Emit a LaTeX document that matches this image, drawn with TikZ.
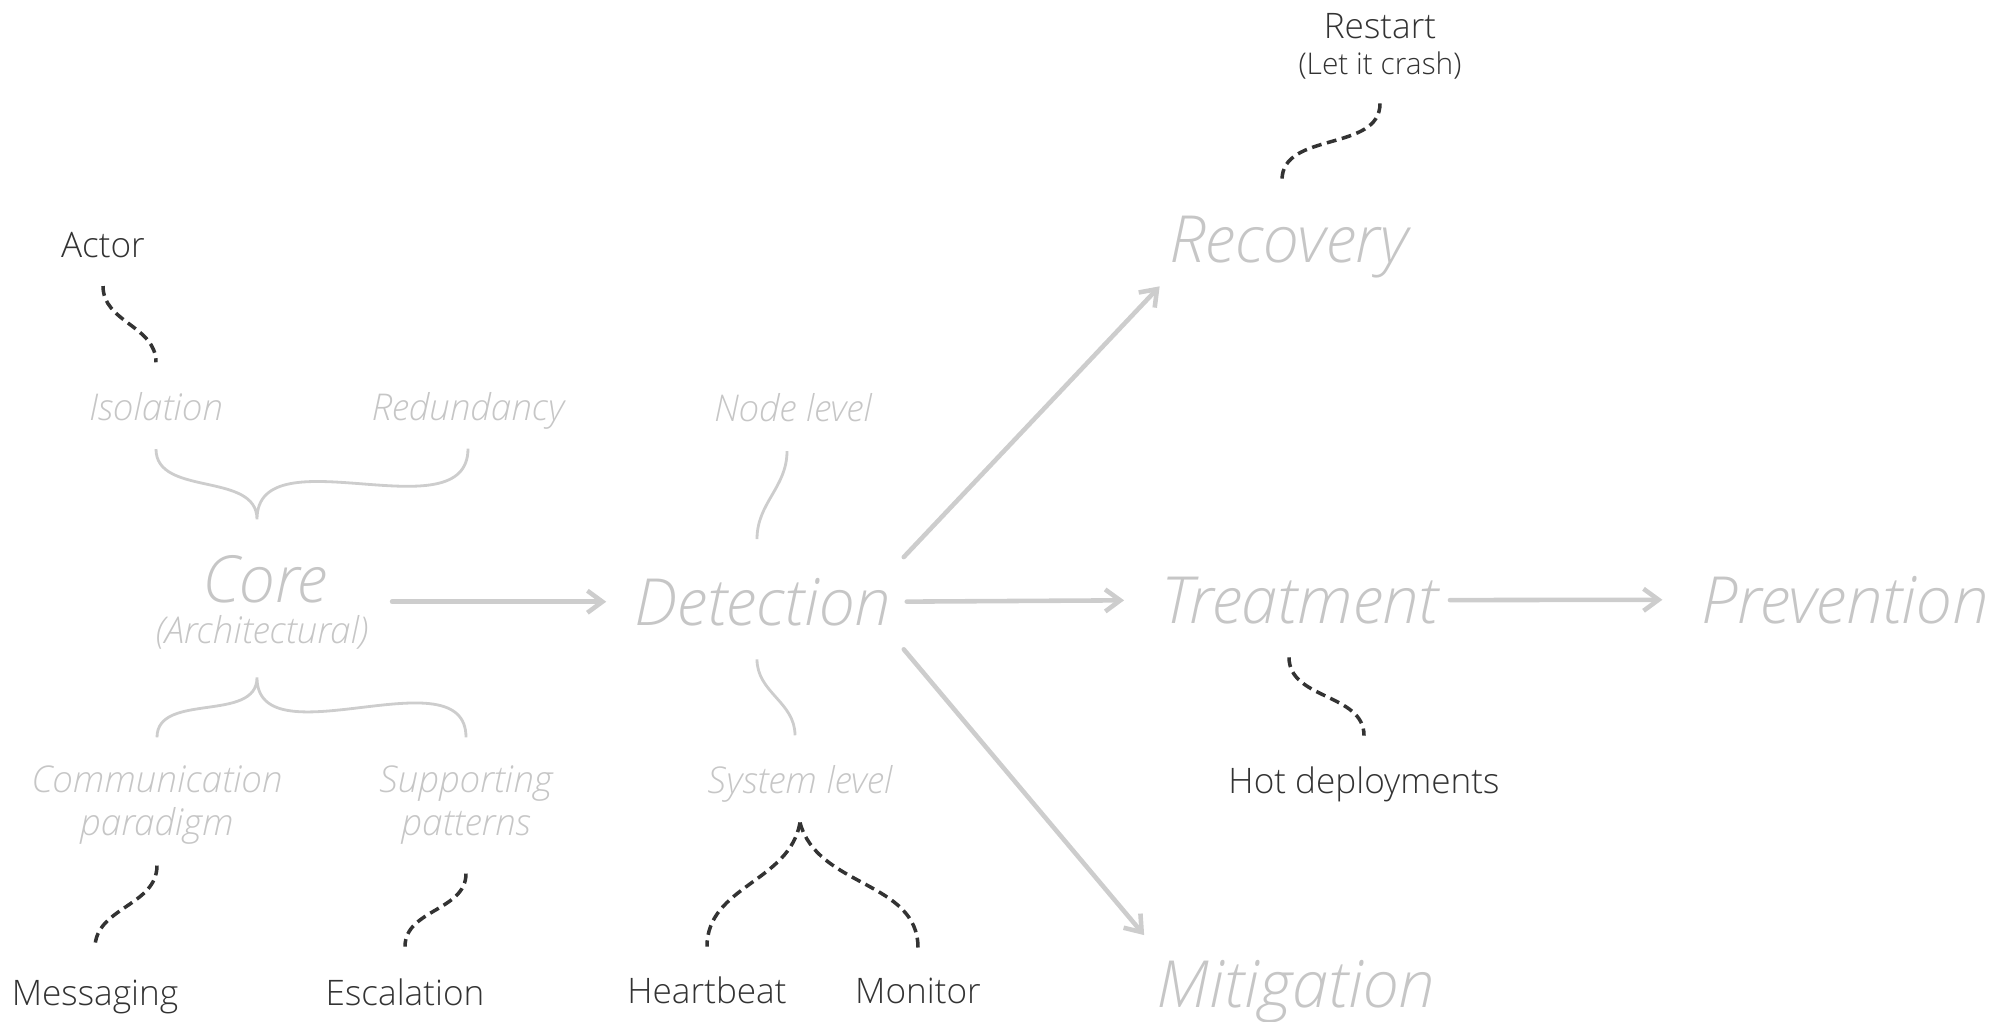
\documentclass[tikz,border=0pt]{standalone}
\usepackage{fontspec}
\setmainfont{Open Sans}[UprightFont=* Light, ItalicFont=* Light Italic]
\usetikzlibrary{arrows.meta, calc}
\definecolor{cgrey}{HTML}{C6C6C6}
\definecolor{cline}{HTML}{CDCDCD}
\definecolor{cdark}{HTML}{333333}
\tikzset{
  stage/.style={font=\itshape\fontsize{18.5}{22}\selectfont, text=cgrey, inner sep=0pt, anchor=base},
  facet/.style={font=\itshape\fontsize{10.5}{12}\selectfont, text=cgrey, inner sep=0pt, anchor=base, align=center},
  tool/.style={font=\fontsize{10}{10.5}\selectfont, text=cdark, inner sep=0pt, anchor=base, align=center},
  flow/.style={-{Straight Barb[length=1.5mm, width=2.2mm]}, draw=cline, line width=1.3pt, line cap=round, line join=round},
  brace/.style={draw=cline, line width=0.8pt},
  hint/.style={draw=cdark, line width=1pt, dash pattern=on 2.8pt off 1.6pt},
}

\begin{document}
\begin{tikzpicture}
  \useasboundingbox (0,0) rectangle (20.10,10.21);
  % stages
  \node[stage] (core) at (2.65,4.19) {Core};
  \node[facet] (arch) at (2.62,3.78) {(Architectural)};
  \node[stage] (detect) at (7.63,3.96) {Detection};
  \node[stage] (recovery) at (12.89,7.59) {Recovery};
  \node[stage] (treat) at (13.00,3.98) {Treatment};
  \node[stage] (prevent) at (18.45,3.98) {Prevention};
  \node[stage] (mitig) at (12.96,0.14) {Mitigation};
  % facets (multi-line ones sit on their last baseline)
  \node[facet] (isolation) at (1.56,6.01) {Isolation};
  \node[facet] (redundancy) at (4.68,6.01) {Redundancy};
  \node[facet] (comm) at (1.57,1.86) {Communication\\paradigm};
  \node[facet] (support) at (4.66,1.86) {Supporting\\patterns};
  \node[facet] (nodelvl) at (7.93,6.00) {Node level};
  \node[facet] (syslvl) at (8.00,2.28) {System level};
  % tools
  \node[tool] (actor) at (1.03,7.64) {Actor};
  \node[tool] (messaging) at (0.95,0.16) {Messaging};
  \node[tool] (escalation) at (4.05,0.16) {Escalation};
  \node[tool] (heartbeat) at (7.07,0.18) {Heartbeat};
  \node[tool] (monitor) at (9.18,0.18) {Monitor};
  \node[tool] (restart) at (13.80,9.46) {Restart\\{\fontsize{8.5}{10.5}\selectfont(Let it crash)}};
  \node[tool] (hotdep) at (13.64,2.28) {Hot deployments};

  % flow arrows
  \draw[flow, shorten <=6.4mm, shorten >=2.8mm] (core.east |- detect.west) -- (detect.west);
  \draw[flow, shorten <=1.5mm, shorten >=3.7mm] (detect.east) -- (treat.west);
  \draw[flow, shorten <=1.1mm, shorten >=3.8mm] (treat.east) -- (prevent.west);
  \draw[flow] ([shift={(1.2mm,2.0mm)}]detect.north east) -- ([shift={(-0.9mm,-0.8mm)}]recovery.south west);
  \draw[flow] ([shift={(1.2mm,-2.3mm)}]detect.south east) -- ([shift={(-1.2mm,2.4mm)}]mitig.north west);

  % braces
  \coordinate (coretop) at ([shift={(-0.8mm,3.5mm)}]core.north);
  \coordinate (corefoot) at ([shift={(-0.5mm,-2.8mm)}]arch.south);
  \draw[brace] ([yshift=-2.8mm]isolation.south) to[out=-90,in=90] (coretop)
    to[out=90,in=-90] ([yshift=-1.9mm]redundancy.south);
  \draw[brace] ([yshift=2.8mm]comm.north) to[out=90,in=-90] (corefoot)
    to[out=-90,in=90] ([yshift=2.8mm]support.north);
  \draw[brace] ([shift={(-0.6mm,-2.9mm)}]nodelvl.south) to[out=-90,in=90] ([shift={(-0.6mm,3.8mm)}]detect.north);
  \draw[brace] ([shift={(-0.6mm,-3.3mm)}]detect.south) to[out=-90,in=90] ([shift={(-0.5mm,2.9mm)}]syslvl.north);

  % dashed hints
  \draw[hint] ([yshift=-2.8mm]actor.south) to[out=-90,in=90] ([yshift=2.9mm]isolation.north);
  \draw[hint] ([yshift=-2.1mm]comm.south) to[out=-90,in=90] ([yshift=3.1mm]messaging.north);
  \draw[hint] ([yshift=-2.9mm]support.south) to[out=-90,in=90] ([yshift=3.1mm]escalation.north);
  \draw[hint] ([yshift=-2mm]syslvl.south) to[out=-100,in=90] ([yshift=2.9mm]heartbeat.north);
  \draw[hint] ([yshift=-2mm]syslvl.south) to[out=-75,in=90] ([yshift=2.9mm]monitor.north);
  \draw[hint] ([yshift=-2.3mm]restart.south) to[out=-90,in=90] ([shift={(-0.7mm,3.5mm)}]recovery.north);
  \draw[hint] ([shift={(-1.1mm,-3.3mm)}]treat.south) to[out=-90,in=90] ([yshift=3mm]hotdep.north);
\end{tikzpicture}
\end{document}
